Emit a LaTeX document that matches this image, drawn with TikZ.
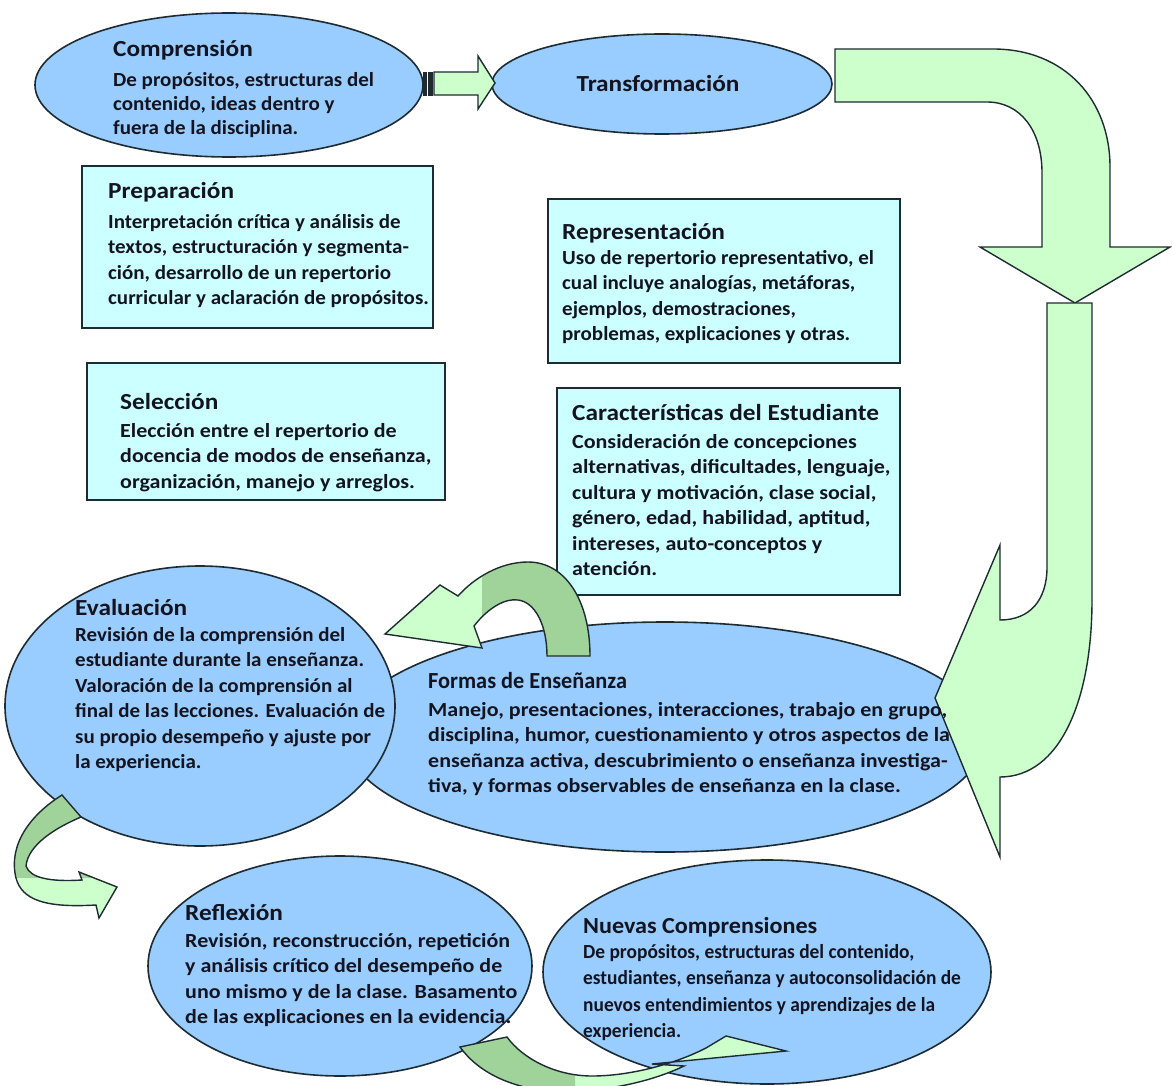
\documentclass[tikz,border=0pt]{standalone}
\usepackage{fontspec}
\setmainfont{Carlito}[FakeStretch=1.1]
\newfontfamily\fA{Carlito}[FakeStretch=1.05]
\newfontfamily\fN{Carlito}[FakeStretch=0.97]
\usetikzlibrary{shapes.geometric}
\definecolor{ellC}{HTML}{99CCFF}
\definecolor{boxC}{HTML}{CCFFFF}
\definecolor{grnL}{HTML}{CCFFCC}
\definecolor{grnD}{HTML}{9FD39A}
\definecolor{lineC}{HTML}{1E2B33}
\definecolor{txtC}{HTML}{141420}
\newcommand\myst{\rule{0pt}{15pt}}
\newcommand\pathA{(590,656) .. controls (590,600) and (565,562) .. (528,562) .. controls (500,562) and (474,578) .. (458,596) -- (440,585) -- (385,634) -- (482,648) -- (474,626) .. controls (488,608) and (505,598) .. (518,600) .. controls (535,602) and (547,625) .. (547,656) -- cycle}
\newcommand\pathB{(62,795) .. controls (30,815) and (8,845) .. (16,878) .. controls (22,900) and (45,908) .. (96,905) -- (99,918) -- (117,887) -- (79,872) -- (82,880) .. controls (50,882) and (30,878) .. (26,866) .. controls (28,845) and (55,828) .. (81,817) -- cycle}
\newcommand\pathC{(460,1047) .. controls (478,1072) and (510,1088) .. (555,1092) .. controls (610,1092) and (655,1080) .. (684,1066) -- (652,1064) -- (786,1051) -- (726,1036) -- (706,1048) .. controls (675,1064) and (630,1076) .. (592,1076) .. controls (555,1076) and (522,1058) .. (507,1037) -- cycle}
\begin{document}
\begin{tikzpicture}[x=1pt,y=-1pt,
  ell/.style={shape=ellipse, draw=lineC, line width=1.6pt, fill=ellC, inner sep=0pt},
  box/.style={draw=lineC, line width=1.6pt, fill=boxC},
  arr/.style={draw=lineC, line width=1.4pt, fill=grnL, line join=miter},
  hd/.style={anchor=base west, inner sep=0pt, text=txtC, font=\fontsize{23}{26}\selectfont\bfseries},
  bd/.style={anchor=north west, inner sep=0pt, align=left, text=txtC, font=\fontsize{20}{25.5}\selectfont\bfseries},
  bdA/.style={bd, font=\fA\fontsize{20}{25.5}\selectfont\bfseries},
  bdN/.style={bd, font=\fN\fontsize{20}{26.5}\selectfont\bfseries}]
\fill[white] (0,0) rectangle (1172,1086);
\useasboundingbox (0,0) rectangle (1172,1086);
\begin{scope}
\clip (0,0) rectangle (1172,1086);
% ellipses
\node[ell, minimum width=388pt, minimum height=144pt] (comp) at (229,85) {};
\node[ell, minimum width=340pt, minimum height=100pt] (trans) at (662,84) {};
\node[ell, minimum width=640pt, minimum height=230pt] (formas) at (665,737) {};
\node[ell, minimum width=390pt, minimum height=280pt] (eval) at (200,706) {};
\node[ell, minimum width=384pt, minimum height=220pt] (refl) at (340,966) {};
\node[ell, minimum width=448pt, minimum height=224pt] (nuev) at (767,972) {};
% boxes
\node[box, minimum width=351pt, minimum height=162pt] (prep) at (257.5,247) {};
\node[box, minimum width=358pt, minimum height=137pt] (sel) at (266,431.5) {};
\node[box, minimum width=352pt, minimum height=164pt] (repr) at (724,281) {};
\node[box, minimum width=343pt, minimum height=207pt] (carac) at (728.5,491.5) {};
% small striped arrow
\draw[arr] (434,72) -- (478,72) -- (478,56) -- (495,83) -- (478,109) -- (478,95) -- (434,95) -- cycle;
\filldraw[draw=lineC, fill=lineC] (423,72) rectangle (426,95);
\filldraw[draw=lineC, fill=lineC] (428,72) rectangle (432,95);
% big arrow 1
\draw[arr] (835,49) -- (993,49) .. controls (1065,49) and (1110,100) .. (1110,167) -- (1110,247) -- (1170,247) -- (1075,303) -- (980,247) -- (1042,247) -- (1042,173) .. controls (1042,130) and (1020,102) .. (987,102) -- (835,102) -- cycle;
% big arrow 2
\draw[arr] (1047,303) -- (1092,303) -- (1092,600) .. controls (1092,700) and (1060,777) .. (1000,777) -- (1000,857) -- (935,698) -- (1000,545) -- (1000,620) .. controls (1030,620) and (1047,600) .. (1047,567) -- cycle;
% curved arrow A
\fill[grnL] \pathA;
\begin{scope}\clip (482,540) rectangle (600,670); \fill[grnD] \pathA; \end{scope}
\draw[lineC, line width=1.4pt] \pathA;
% curved arrow B
\fill[grnL] \pathB;
\begin{scope}\clip (0,780) rectangle (130,877); \fill[grnD] \pathB; \end{scope}
\draw[lineC, line width=1.4pt] \pathB;
% curved arrow C
\fill[grnL] \pathC;
\begin{scope}\clip (440,1020) rectangle (575,1100); \fill[grnD] \pathC; \end{scope}
\draw[lineC, line width=1.4pt] \pathC;
\end{scope}
% texts
\node[hd] (compH) at (113,57) {Comprensión};
\node[bdA, font=\fA\fontsize{20}{24}\selectfont\bfseries] (compB) at (113,71) {\myst De propósitos, estructuras del\\contenido, ideas dentro y\\fuera de la disciplina.};
\node[anchor=base, inner sep=0pt, text=txtC, font=\fontsize{23}{26}\selectfont\bfseries] (transT) at (658,92) {Transformación};
\node[hd] (prepH) at (108,199) {Preparación};
\node[bdA] (prepB) at (108,213) {\myst Interpretación crítica y análisis de\\textos, estructuración y segmenta-\\ción, desarrollo de un repertorio\\curricular y aclaración de propósitos.};
\node[hd] (reprH) at (562,239) {Representación};
\node[bdA] (reprB) at (562,249) {\myst Uso de repertorio representativo, el\\cual incluye analogías, metáforas,\\ejemplos, demostraciones,\\problemas, explicaciones y otras.};
\node[hd] (selH) at (120,409) {Selección};
\node[bd] (selB) at (120,422) {\myst Elección entre el repertorio de\\docencia de modos de enseñanza,\\organización, manejo y arreglos.};
\node[hd] (caracH) at (572,420) {Características del Estudiante};
\node[bd] (caracB) at (572,433) {\myst Consideración de concepciones\\alternativas, dificultades, lenguaje,\\cultura y motivación, clase social,\\género, edad, habilidad, aptitud,\\intereses, auto-conceptos y\\atención.};
\node[hd] (evalH) at (75,615) {Evaluación};
\node[bdA] (evalB) at (75,626) {\myst Revisión de la comprensión del\\estudiante durante la enseñanza.\\Valoración de la comprensión al\\final de las lecciones. Evaluación de\\su propio desempeño y ajuste por\\la experiencia.};
\node[hd, font=\fN\fontsize{23}{26}\selectfont\bfseries] (formH) at (428,688) {Formas de Enseñanza};
\node[bd] (formB) at (428,701) {\myst Manejo, presentaciones, interacciones, trabajo en grupo,\\disciplina, humor, cuestionamiento y otros aspectos de la\\enseñanza activa, descubrimiento o enseñanza investiga-\\tiva, y formas observables de enseñanza en la clase.};
\node[hd] (reflH) at (185,920) {Reflexión};
\node[bd] (reflB) at (185,932) {\myst Revisión, reconstrucción, repetición\\y análisis crítico del desempeño de\\uno mismo y de la clase. Basamento\\de las explicaciones en la evidencia.};
\node[hd, font=\fA\fontsize{23}{26}\selectfont\bfseries] (nuevH) at (583,933) {Nuevas Comprensiones};
\node[bdN] (nuevB) at (583,943) {\myst De propósitos, estructuras del contenido,\\estudiantes, enseñanza y autoconsolidación de\\nuevos entendimientos y aprendizajes de la\\experiencia.};
\end{tikzpicture}
\end{document}
